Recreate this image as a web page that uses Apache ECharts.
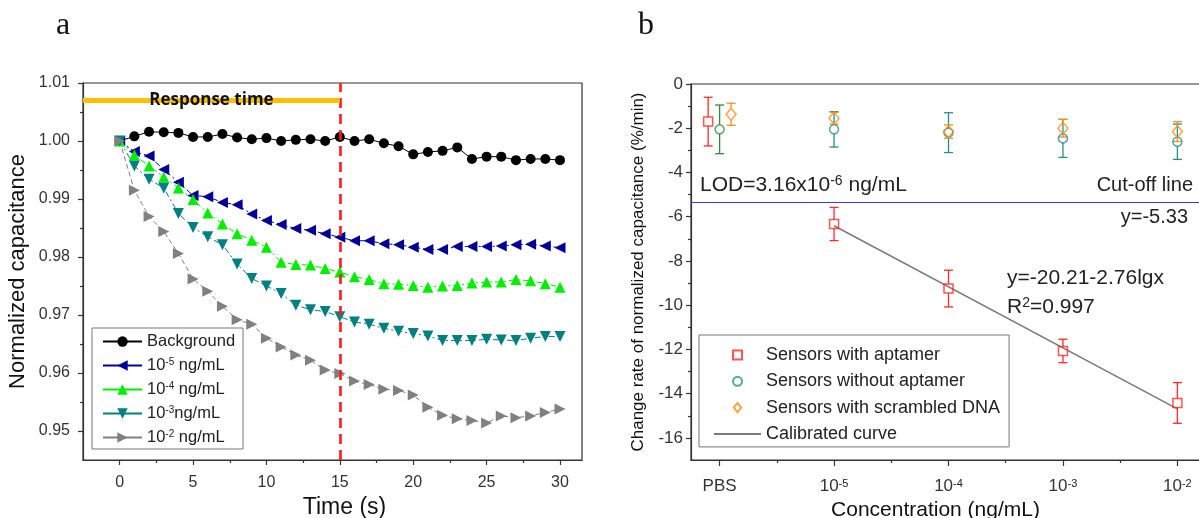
<!DOCTYPE html>
<html>
<head>
<meta charset="utf-8">
<script src="https://cdn.jsdelivr.net/npm/echarts@6/dist/echarts.min.js"></script>
<style>
  html, body { margin: 0; padding: 0; background: #fff; }
  #chart { width: 1199px; height: 518px; }
</style>
</head>
<body>
<div id="chart"></div>
<script>
// ---- panel a: normalized capacitance over time ----
const timeSeconds = [0, 1, 2, 3, 4, 5, 6, 7, 8, 9, 10, 11, 12, 13, 14, 15, 16, 17, 18, 19, 20, 21, 22, 23, 24, 25, 26, 27, 28, 29, 30];
const background = [1.0000, 1.0008, 1.0016, 1.0015, 1.0014, 1.0007, 1.0007, 1.0012, 1.0006, 1.0003, 1.0005, 1.0000, 1.0002, 1.0003, 1.0000, 1.0007, 1.0000, 1.0003, 0.9996, 0.9991, 0.9977, 0.9981, 0.9983, 0.9989, 0.9969, 0.9973, 0.9973, 0.9967, 0.9969, 0.9969, 0.9967];
const conc1e5 = [1.0000, 0.9982, 0.9974, 0.9951, 0.9929, 0.9906, 0.9904, 0.9894, 0.9890, 0.9874, 0.9863, 0.9856, 0.9849, 0.9846, 0.9840, 0.9834, 0.9828, 0.9828, 0.9823, 0.9821, 0.9817, 0.9813, 0.9813, 0.9818, 0.9818, 0.9818, 0.9819, 0.9821, 0.9822, 0.9819, 0.9816];
const conc1e4 = [1.0000, 0.9976, 0.9957, 0.9938, 0.9919, 0.9899, 0.9876, 0.9857, 0.9840, 0.9829, 0.9817, 0.9791, 0.9787, 0.9786, 0.9780, 0.9774, 0.9766, 0.9761, 0.9754, 0.9753, 0.9751, 0.9748, 0.9750, 0.9751, 0.9755, 0.9757, 0.9757, 0.9761, 0.9759, 0.9754, 0.9748];
const conc1e3 = [1.0000, 0.9957, 0.9934, 0.9919, 0.9875, 0.9851, 0.9835, 0.9821, 0.9788, 0.9763, 0.9750, 0.9737, 0.9717, 0.9709, 0.9706, 0.9697, 0.9688, 0.9684, 0.9677, 0.9672, 0.9668, 0.9664, 0.9656, 0.9656, 0.9656, 0.9658, 0.9657, 0.9656, 0.9660, 0.9663, 0.9663];
const conc1e2 = [1.0000, 0.9915, 0.9870, 0.9844, 0.9806, 0.9762, 0.9741, 0.9715, 0.9692, 0.9684, 0.9660, 0.9645, 0.9631, 0.9622, 0.9605, 0.9599, 0.9586, 0.9580, 0.9572, 0.9570, 0.9562, 0.9541, 0.9527, 0.9521, 0.9518, 0.9514, 0.9526, 0.9523, 0.9526, 0.9532, 0.9538];
const seriesNamesA = ['Background', '1e-5', '1e-4', '1e-3', '1e-2'];
const legendLabelsA = ['Background', '10{s|-5} ng/mL', '10{s|-4} ng/mL', '10{s|-3}ng/mL', '10{s|-2} ng/mL'];
const timeTicks = [0, 5, 10, 15, 20, 25, 30];
const timeMinorTicks = [2.5, 7.5, 12.5, 17.5, 22.5, 27.5];
const capTicks = [0.95, 0.96, 0.97, 0.98, 0.99, 1.00, 1.01];
const capMinorTicks = [0.955, 0.965, 0.975, 0.985, 0.995, 1.005];
const responseTime = 15;
const responseBarLevel = 1.007;

// ---- panel b: change rate vs concentration ----
// x positions: 0 = PBS, 1..4 = 10^-5 .. 10^-2 ng/mL
const concTicks = [0, 1, 2, 3, 4];
const concTickLabels = ['PBS', '-5', '-4', '-3', '-2'];
const concMinorTicks = [0.5, 1.5, 2.5, 3.5];
const aptamerX = [-0.1, 1, 2, 3, 4];
const aptamerRate = [-1.70, -6.33, -9.25, -12.07, -14.42];
const aptamerErr = [1.10, 0.75, 0.83, 0.53, 0.92];
const noAptamerX = [0, 1, 2, 3, 4];
const noAptamerRate = [-2.05, -2.05, -2.20, -2.46, -2.61];
const noAptamerErr = [1.10, 0.80, 0.90, 0.86, 0.80];
const scrambledX = [0.1, 1, 2, 3, 4];
const scrambledRate = [-1.37, -1.55, -2.15, -2.00, -2.15];
const scrambledErr = [0.50, 0.27, 0.30, 0.40, 0.45];
const calibX = [1, 4];
const calibRate = [-6.41, -14.69];
const cutoffLevel = -5.33;
const rateTicks = [0, -2, -4, -6, -8, -10, -12, -14, -16];
const rateMinorTicks = [-1, -3, -5, -7, -9, -11, -13, -15];
const seriesNamesB = ['Sensors with aptamer', 'Sensors without aptamer', 'Sensors with scrambled DNA', 'Calibrated curve'];

const FONT = "'Liberation Sans', Arial, sans-serif";
const AXIS_COLOR = '#333';
const sup = (size) => ({ s: { fontSize: size, verticalAlign: 'top', fontFamily: FONT, color: '#222' } });

const chart = echarts.init(document.getElementById('chart'));

const zip = (xs, ys) => xs.map((x, i) => [x, ys[i]]);
const zip3 = (xs, ys, es) => xs.map((x, i) => [x, ys[i], es[i]]);

const majorAxis = (extra) => Object.assign({
  type: 'value',
  axisLine: { show: true, onZero: false, lineStyle: { color: AXIS_COLOR, width: 1.2 } },
  splitLine: { show: false },
}, extra);

const minorAxis = (extra, ticks) => Object.assign({
  type: 'value',
  axisLine: { show: false, onZero: false },
  splitLine: { show: false },
  axisLabel: { show: false, customValues: ticks },
  axisTick: { show: true, length: 3, customValues: ticks, lineStyle: { color: AXIS_COLOR, width: 1.2 } },
}, extra);

const renderErrorBar = (gap) => (params, api) => {
  const x = api.value(0);
  const y = api.value(1);
  const e = api.value(2);
  const top = api.coord([x, y + e]);
  const bottom = api.coord([x, y - e]);
  const mid = api.coord([x, y]);
  const cap = 4.5;
  const style = { stroke: api.visual('color'), lineWidth: 1.3 };
  return {
    type: 'group',
    children: [
      { type: 'line', shape: { x1: top[0] - cap, y1: top[1], x2: top[0] + cap, y2: top[1] }, style },
      { type: 'line', shape: { x1: top[0], y1: top[1], x2: mid[0], y2: Math.max(top[1], mid[1] - gap) }, style },
      { type: 'line', shape: { x1: mid[0], y1: Math.min(bottom[1], mid[1] + gap), x2: bottom[0], y2: bottom[1] }, style },
      { type: 'line', shape: { x1: bottom[0] - cap, y1: bottom[1], x2: bottom[0] + cap, y2: bottom[1] }, style },
    ],
  };
};

const lineA = (name, data, color, symbol, rotate, dashed) => ({
  name,
  type: 'line',
  xAxisIndex: 0,
  yAxisIndex: 0,
  data: zip(timeSeconds, data),
  symbol,
  symbolSize: symbol === 'circle' ? 10 : 11,
  symbolRotate: rotate,
  itemStyle: { color },
  lineStyle: { color, width: 1, type: dashed },
});

const option = {
  animation: false,
  backgroundColor: '#fff',
  textStyle: { fontFamily: FONT },
  grid: [
    { left: 83, top: 83, width: 499, height: 377, outerBoundsMode: 'none', containLabel: false, show: true, borderColor: AXIS_COLOR, borderWidth: 1.2, backgroundColor: 'transparent' },
    { left: 691, top: 84, width: 515, height: 376, outerBoundsMode: 'none', containLabel: false, show: true, borderColor: AXIS_COLOR, borderWidth: 1.2, backgroundColor: 'transparent' },
  ],
  xAxis: [
    majorAxis({
      gridIndex: 0, position: 'bottom', min: -2.5, max: 31.5,
      axisTick: { length: 5, customValues: timeTicks, lineStyle: { color: AXIS_COLOR, width: 1.2 } },
      axisLabel: { customValues: timeTicks, fontSize: 16, color: '#333', margin: 15, fontFamily: FONT },
      name: 'Time (s)', nameLocation: 'middle', nameGap: 32,
      nameTextStyle: { fontSize: 23, color: '#111', fontFamily: FONT, padding: [0, 0, 0, 24] },
    }),
    minorAxis({ gridIndex: 0, position: 'bottom', min: -2.5, max: 31.5 }, timeMinorTicks),
    majorAxis({
      gridIndex: 1, position: 'bottom', min: -0.25, max: 4.25,
      axisTick: { length: 6, customValues: concTicks, lineStyle: { color: AXIS_COLOR, width: 1.2 } },
      axisLabel: {
        customValues: concTicks, fontSize: 17, color: '#333', margin: 18, fontFamily: FONT,
        formatter: (v) => {
          const label = concTickLabels[concTicks.indexOf(v)];
          return v === 0 ? label : '10{s|' + label + '}';
        },
        rich: sup(11),
      },
      name: 'Concentration (ng/mL)', nameLocation: 'middle', nameGap: 37,
      nameTextStyle: { fontSize: 21, color: '#111', fontFamily: FONT, padding: [0, 26, 0, 0] },
    }),
    minorAxis({ gridIndex: 1, position: 'bottom', min: -0.25, max: 4.25 }, concMinorTicks),
  ],
  yAxis: [
    majorAxis({
      gridIndex: 0, position: 'left', min: 0.945, max: 1.01,
      axisTick: { length: 5, customValues: capTicks, lineStyle: { color: AXIS_COLOR, width: 1.2 } },
      axisLabel: { customValues: capTicks, fontSize: 16, color: '#333', margin: 13, fontFamily: FONT, formatter: (v) => v.toFixed(2) },
      name: 'Normalized capacitance', nameLocation: 'middle', nameGap: 54,
      nameTextStyle: { fontSize: 22, color: '#111', fontFamily: FONT },
    }),
    minorAxis({ gridIndex: 0, position: 'left', min: 0.945, max: 1.01 }, capMinorTicks),
    majorAxis({
      gridIndex: 1, position: 'left', min: -17, max: 0,
      axisTick: { length: 5, customValues: rateTicks, lineStyle: { color: AXIS_COLOR, width: 1.2 } },
      axisLabel: { customValues: rateTicks, fontSize: 17, color: '#333', margin: 8, fontFamily: FONT },
      name: 'Change rate of normalized capacitance (%/min)', nameLocation: 'middle', nameGap: 44,
      nameTextStyle: { fontSize: 17, color: '#111', fontFamily: FONT },
    }),
    minorAxis({ gridIndex: 1, position: 'left', min: -17, max: 0 }, rateMinorTicks),
  ],
  legend: [
    {
      data: seriesNamesA,
      orient: 'vertical',
      left: 92, top: 328,
      itemWidth: 39, itemHeight: 13, itemGap: 7,
      padding: [5, 8, 3, 10],
      borderColor: '#777', borderWidth: 1,
      selectedMode: false,
      lineStyle: { type: 'solid' },
      formatter: (name) => legendLabelsA[seriesNamesA.indexOf(name)],
      textStyle: { fontSize: 16.5, color: '#222', fontFamily: FONT, rich: sup(10) },
    },
    {
      data: [
        { name: seriesNamesB[0], icon: 'path://M0,0 L10,0 L10,10 L0,10 Z' },
        { name: seriesNamesB[1] },
        { name: seriesNamesB[2], icon: 'path://M5,0 L10,6 L5,12 L0,6 Z' },
        { name: seriesNamesB[3], itemStyle: { color: 'rgba(0,0,0,0)', borderWidth: 0 } },
      ],
      orient: 'vertical',
      left: 699, top: 335,
      itemWidth: 47, itemHeight: 9, itemGap: 8.3,
      symbolKeepAspect: true,
      padding: [11, 9, 4, 14],
      borderColor: '#777', borderWidth: 1,
      selectedMode: false,
      textStyle: { fontSize: 18, color: '#222', fontFamily: FONT },
    },
  ],
  graphic: [
    { type: 'text', left: 56, top: 10, style: { text: 'a', font: "32px 'Liberation Serif', serif", fill: '#111' } },
    { type: 'text', left: 638, top: 10, style: { text: 'b', font: "32px 'Liberation Serif', serif", fill: '#111' } },
    { type: 'text', x: 700, y: 185, style: { text: 'LOD=3.16x10{s|-6} ng/mL', font: '21px ' + FONT, fill: '#222', verticalAlign: 'middle', rich: sup(14) } },
    { type: 'text', x: 1193, y: 185, style: { text: 'Cut-off line', font: '20px ' + FONT, fill: '#222', align: 'right', verticalAlign: 'middle' } },
    { type: 'text', x: 1188, y: 217, style: { text: 'y=-5.33', font: '20px ' + FONT, fill: '#222', align: 'right', verticalAlign: 'middle' } },
    { type: 'text', x: 1007, y: 278, style: { text: 'y=-20.21-2.76lgx', font: '21px ' + FONT, fill: '#222', verticalAlign: 'middle' } },
    { type: 'text', x: 1007, y: 307, style: { text: 'R{s|2}=0.997', font: '21px ' + FONT, fill: '#222', verticalAlign: 'middle', rich: sup(14) } },
  ],
  series: [
    Object.assign(lineA(seriesNamesA[0], background, '#000', 'circle', 0, 'solid'), {
      markLine: {
        silent: true,
        symbol: ['none', 'none'],
        data: [
          { xAxis: responseTime, lineStyle: { color: '#ff1a1a', width: 2.6, type: [10, 6] }, label: { show: false } },
          [
            {
              coord: [-2.5, responseBarLevel],
              lineStyle: { color: '#FFC000', width: 5, type: 'solid' },
              label: {
                show: true, position: 'middle', distance: 0, verticalAlign: 'middle',
                formatter: 'Response time', color: '#111', fontSize: 17, fontWeight: 'bold', fontFamily: "'Open Sans', sans-serif",
              },
            },
            { coord: [responseTime, responseBarLevel] },
          ],
        ],
      },
    }),
    lineA(seriesNamesA[1], conc1e5, '#000099', 'triangle', 90, [6, 3, 2, 3]),
    lineA(seriesNamesA[2], conc1e4, '#00ee00', 'triangle', 0, [6, 3, 2, 3]),
    lineA(seriesNamesA[3], conc1e3, '#008080', 'triangle', 180, [6, 3, 2, 3]),
    lineA(seriesNamesA[4], conc1e2, '#808080', 'triangle', -90, [5, 3]),

    {
      name: seriesNamesB[3],
      type: 'line',
      xAxisIndex: 2, yAxisIndex: 2,
      data: zip(calibX, calibRate),
      symbol: 'none',
      itemStyle: { color: '#7a7a7a' },
      lineStyle: { color: '#7a7a7a', width: 1.5 },
      z: 1,
      markLine: {
        silent: true,
        symbol: ['none', 'none'],
        label: { show: false },
        lineStyle: { color: '#3a3ae8', width: 1.2, type: 'solid' },
        data: [{ yAxis: cutoffLevel }],
      },
    },
    {
      name: 'err-aptamer', type: 'custom', xAxisIndex: 2, yAxisIndex: 2, z: 2,
      itemStyle: { color: '#ff2a2a' },
      renderItem: renderErrorBar(4.5),
      data: zip3(aptamerX, aptamerRate, aptamerErr),
    },
    {
      name: 'err-noaptamer', type: 'custom', xAxisIndex: 2, yAxisIndex: 2, z: 2,
      itemStyle: { color: '#23908c' },
      renderItem: renderErrorBar(4.5),
      data: zip3(noAptamerX, noAptamerRate, noAptamerErr).map((d, i) => i === 0 ? { value: d, itemStyle: { color: '#2e8b3a' } } : d),
    },
    {
      name: 'err-scrambled', type: 'custom', xAxisIndex: 2, yAxisIndex: 2, z: 2,
      itemStyle: { color: '#ff8c1a' },
      renderItem: renderErrorBar(6),
      data: zip3(scrambledX, scrambledRate, scrambledErr),
    },
    {
      name: seriesNamesB[0], type: 'scatter', xAxisIndex: 2, yAxisIndex: 2, z: 3,
      symbol: 'rect', symbolSize: 9,
      itemStyle: { color: 'rgba(255,255,255,0)', borderColor: '#ff2a2a', borderWidth: 1.5 },
      data: zip(aptamerX, aptamerRate),
    },
    {
      name: seriesNamesB[1], type: 'scatter', xAxisIndex: 2, yAxisIndex: 2, z: 3,
      symbol: 'circle', symbolSize: 9,
      itemStyle: { color: 'rgba(255,255,255,0)', borderColor: '#23908c', borderWidth: 1.5 },
      data: zip(noAptamerX, noAptamerRate).map((d, i) => i === 0 ? { value: d, itemStyle: { borderColor: '#2e8b3a' } } : d),
    },
    {
      name: seriesNamesB[2], type: 'scatter', xAxisIndex: 2, yAxisIndex: 2, z: 3,
      symbol: 'diamond', symbolSize: [10, 12],
      itemStyle: { color: 'rgba(255,255,255,0)', borderColor: '#ff8c1a', borderWidth: 1.5 },
      data: zip(scrambledX, scrambledRate),
    },
  ],
};

chart.setOption(option);
</script>
</body>
</html>
